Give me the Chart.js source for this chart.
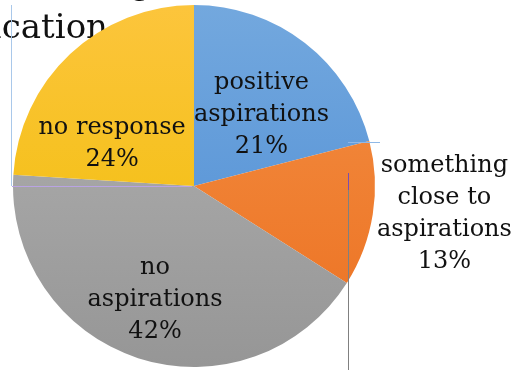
<!DOCTYPE html>
<html>
<head>
<meta charset="utf-8">
<script src="https://cdn.jsdelivr.net/npm/chart.js@4/dist/chart.umd.min.js"></script>
<style>
  html, body { margin: 0; padding: 0; background: #ffffff; }
  #wrap { width: 516px; height: 370px; position: relative; }
</style>
</head>
<body>
<div id="wrap"><canvas id="c"></canvas></div>
<script>
// ---- data ----
const categories = ['positive aspirations', 'something close to aspirations', 'no aspirations', 'no response'];
const shares = [21, 13, 42, 24];
const labelLines = [['positive', 'aspirations'], ['something', 'close to', 'aspirations'], ['no', 'aspirations'], ['no response']];
const titleLines = ['Aspirations for Nursing', 'Education'];

// ---- styling ----
const gradStops = [
  ['#73a8de', '#4b8bd4'],
  ['#f39045', '#ec7020'],
  ['#b3b3b3', '#969696'],
  ['#fcc53c', '#efbd00']
];
const labelOffsets = [[12, 0], [161, 14], [-11, 28], [-20, 24]];
const FONT = '24px "DejaVu Serif", serif';

function sliceFill(ctx) {
  const i = ctx.dataIndex;
  const chart = ctx.chart;
  const area = chart.chartArea;
  if (i === undefined || i < 0) return gradStops[0][1];
  if (!area) return gradStops[i][1];
  const g = chart.ctx.createLinearGradient(0, area.top, 0, area.bottom);
  g.addColorStop(0, gradStops[i][0]);
  g.addColorStop(1, gradStops[i][1]);
  return g;
}

const labelPlugin = {
  id: 'sliceLabels',
  afterDatasetsDraw(chart) {
    const ctx = chart.ctx;
    const meta = chart.getDatasetMeta(0);
    ctx.save();
    ctx.font = FONT;
    ctx.fillStyle = '#111111';
    ctx.textAlign = 'center';
    ctx.textBaseline = 'middle';
    const lh = 32;
    meta.data.forEach((arc, i) => {
      const p = arc.tooltipPosition();
      const lines = labelLines[i].concat([shares[i] + '%']);
      const cx = p.x + labelOffsets[i][0];
      const cy = p.y + labelOffsets[i][1];
      const y0 = cy - (lines.length - 1) * lh / 2;
      lines.forEach((t, k) => ctx.fillText(t, cx, y0 + k * lh));
    });
    ctx.restore();
  }
};

const decoPlugin = {
  id: 'deco',
  beforeDraw(chart) {
    const ctx = chart.ctx;
    ctx.save();
    ctx.fillStyle = '#111111';
    ctx.font = '34px "DejaVu Serif", serif';
    ctx.textAlign = 'right';
    ctx.textBaseline = 'alphabetic';
    ctx.fillText(titleLines[0], 152, -6);
    ctx.fillText(titleLines[1], 108, 38);
    ctx.restore();
  },
  afterDraw(chart) {
    const ctx = chart.ctx;
    ctx.save();
    ctx.lineWidth = 1;
    const seg = (x1, y1, x2, y2, c) => {
      ctx.strokeStyle = c;
      ctx.beginPath(); ctx.moveTo(x1, y1); ctx.lineTo(x2, y2); ctx.stroke();
    };
    seg(11.5, 5, 11.5, 186, '#a9c8ea');
    seg(12, 186.5, 192, 186.5, '#b9a3e3');
    seg(348, 142.5, 380, 142.5, '#8fb8e6');
    seg(348.5, 173, 348.5, 190, '#7a4fb0');
    seg(348.5, 190, 348.5, 370, '#808080');
    ctx.restore();
  }
};

new Chart(document.getElementById('c'), {
  type: 'pie',
  data: {
    labels: categories,
    datasets: [{
      data: shares,
      backgroundColor: sliceFill,
      borderWidth: 0
    }]
  },
  options: {
    responsive: true,
    maintainAspectRatio: false,
    animation: false,
    layout: { padding: { left: 13, top: 5, right: 141, bottom: 3 } },
    plugins: {
      legend: { display: false },
      tooltip: { enabled: false },
      title: { display: false }
    }
  },
  plugins: [labelPlugin, decoPlugin]
});
</script>
</body>
</html>
